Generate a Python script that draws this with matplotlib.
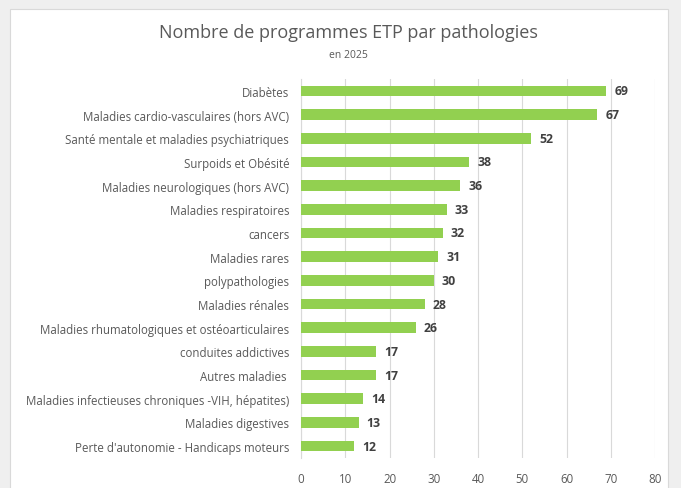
import matplotlib
matplotlib.use("Agg")
import matplotlib.pyplot as plt
from matplotlib.patches import Rectangle

categories = [
    "Diabètes",
    "Maladies cardio-vasculaires (hors AVC)",
    "Santé mentale et maladies psychiatriques",
    "Surpoids et Obésité",
    "Maladies neurologiques (hors AVC)",
    "Maladies respiratoires",
    "cancers",
    "Maladies rares",
    "polypathologies",
    "Maladies rénales",
    "Maladies rhumatologiques et ostéoarticulaires",
    "conduites addictives",
    "Autres maladies ",
    "Maladies infectieuses chroniques -VIH, hépatites)",
    "Maladies digestives",
    "Perte d'autonomie - Handicaps moteurs",
]
values = [69, 67, 52, 38, 36, 33, 32, 31, 30, 28, 26, 17, 17, 14, 13, 12]
xticks = [0, 10, 20, 30, 40, 50, 60, 70, 80]

plt.rcParams['font.family'] = ['Open Sans', 'DejaVu Sans']

fig = plt.figure(figsize=(6.81, 4.89), dpi=100)
fig.patch.set_facecolor('#efefef')

# white chart area as a background axes
bg = fig.add_axes([0, 0, 1, 1], zorder=-1)
bg.set_xlim(0, 681)
bg.set_ylim(489, 0)
bg.axis('off')
bg.add_patch(Rectangle((10, 10), 658, 500, facecolor='white',
                       edgecolor='#d9d9d9', linewidth=0.8))

ax = fig.add_axes([301/681, 1 - 459/489, 354/681, 379/489], zorder=1)
ax.set_facecolor('none')
ypos = list(range(len(categories)))
ax.barh(ypos, values, height=0.45, color='#92d050', zorder=3)
ax.set_ylim(len(categories) - 0.5, -0.5)
ax.set_xlim(0, 80)
ax.set_xticks(xticks)
ax.set_xticklabels([str(t) for t in xticks])
ax.set_yticks(ypos)
ax.set_yticklabels(categories)
ax.tick_params(axis='both', length=0, labelsize=8.3, colors='#595959')
ax.tick_params(axis='y', pad=8.5)
ax.tick_params(axis='x', pad=10)
ax.xaxis.grid(True, color='#d9d9d9', linewidth=0.8, zorder=0)
ax.set_axisbelow(True)
for s in ['top', 'right', 'bottom']:
    ax.spines[s].set_visible(False)
ax.spines['left'].set_color('#d9d9d9')
ax.spines['left'].set_linewidth(0.8)

for y, v in zip(ypos, values):
    ax.text(v + 1.8, y, str(v), va='center', ha='left', fontsize=8.8,
            fontweight='bold', color='#404040', zorder=4)

fig.text(0.5 + 8/681, 1 - 33/489, "Nombre de programmes ETP par pathologies",
         ha='center', va='center', fontsize=13, color='#595959')
fig.text(0.5 + 8/681, 1 - 55.5/489, "en 2025", ha='center', va='center',
         fontsize=7.5, color='#595959')

fig.savefig("out.png", dpi=100, facecolor=fig.get_facecolor())
